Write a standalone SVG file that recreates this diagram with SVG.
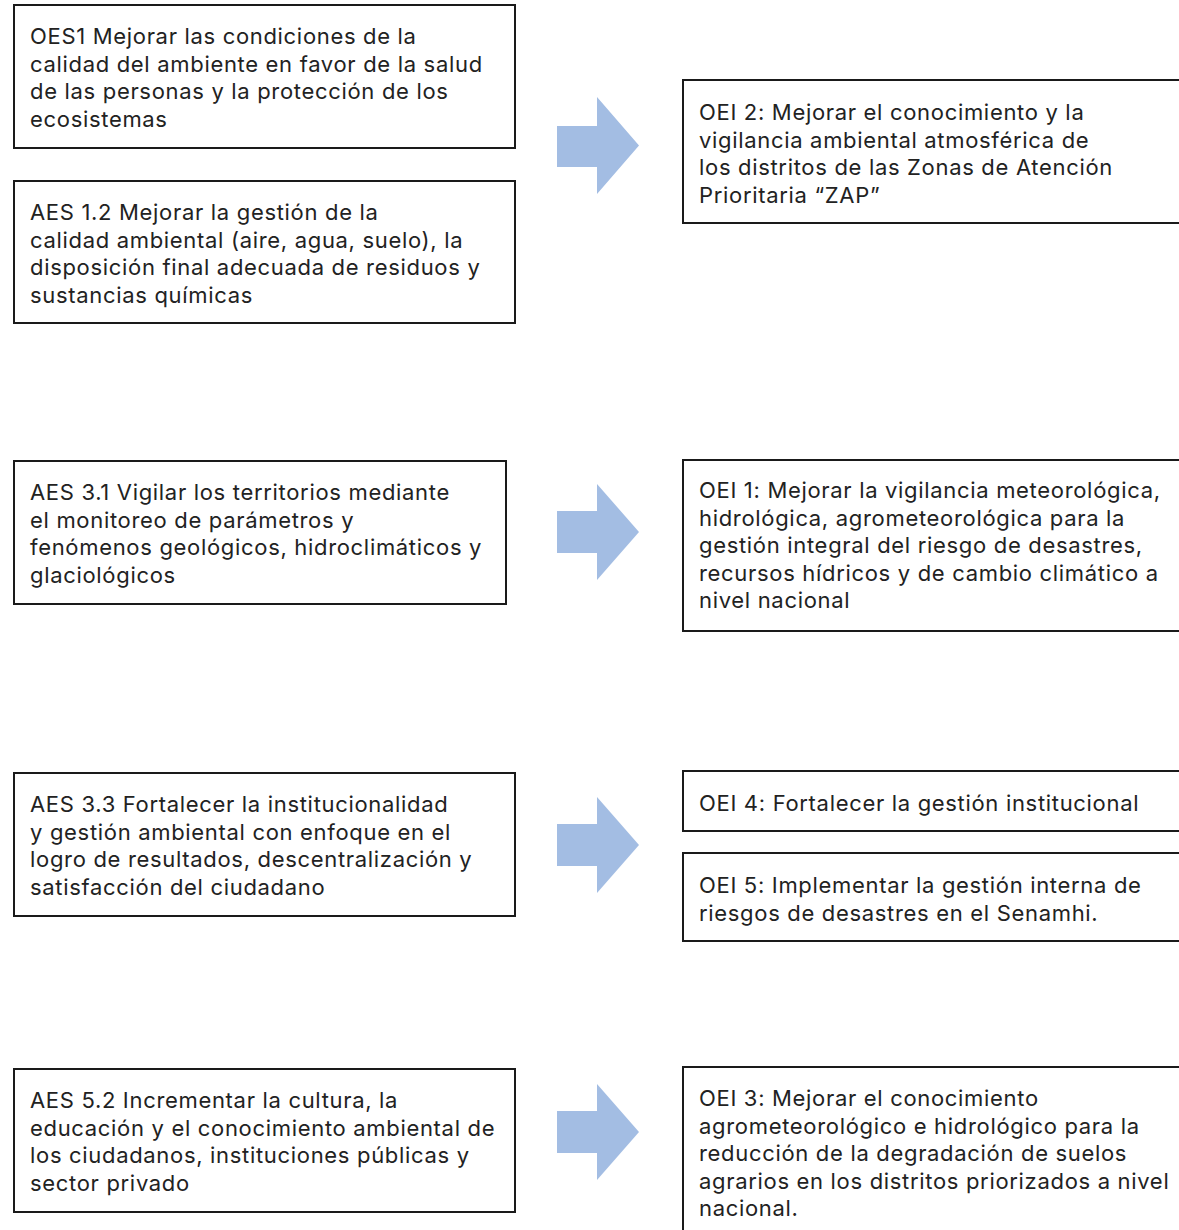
<svg xmlns="http://www.w3.org/2000/svg" width="1179" height="1230" viewBox="0 0 1179 1230">
<defs>
<style>
.box{fill:#ffffff;stroke:#1a1a1a;stroke-width:2}
.t{font-family:Inter,"Open Sans","Liberation Sans",sans-serif;font-size:22px;letter-spacing:0.68px;fill:#222222}
.arr{fill:#a3bde3}
</style>
</defs>
<rect x="0" y="0" width="1179" height="1230" fill="#ffffff"/>
<g id="connectors">
<polygon class="arr" points="557,126 597,126 597,97 639,145.5 597,194 597,167 557,167"/>
<polygon class="arr" points="557,511 597,511 597,484 639,532 597,580 597,553 557,553"/>
<polygon class="arr" points="557,824 597,824 597,797 639,845 597,893 597,866 557,866"/>
<polygon class="arr" points="557,1111 597,1111 597,1084 639,1132 597,1180 597,1153 557,1153"/>
</g>
<g id="oes1">
<rect class="box" x="14" y="5" width="501" height="143"/>
<text class="t"><tspan x="30" y="44">OES1 Mejorar las condiciones de la</tspan><tspan x="30" y="71.6">calidad del ambiente en favor de la salud</tspan><tspan x="30" y="99.2">de las personas y la protección de los</tspan><tspan x="30" y="126.8">ecosistemas</tspan></text>
</g>
<g id="aes12">
<rect class="box" x="14" y="181" width="501" height="142"/>
<text class="t"><tspan x="30" y="220">AES 1.2 Mejorar la gestión de la</tspan><tspan x="30" y="247.6">calidad ambiental (aire, agua, suelo), la</tspan><tspan x="30" y="275.2">disposición final adecuada de residuos y</tspan><tspan x="30" y="302.8">sustancias químicas</tspan></text>
</g>
<g id="oei2">
<rect class="box" x="683" y="80" width="500" height="143"/>
<text class="t"><tspan x="699" y="120">OEI 2: Mejorar el conocimiento y la</tspan><tspan x="699" y="147.6">vigilancia ambiental atmosférica de</tspan><tspan x="699" y="175.2">los distritos de las Zonas de Atención</tspan><tspan x="699" y="202.8">Prioritaria “ZAP”</tspan></text>
</g>
<g id="aes31">
<rect class="box" x="14" y="461" width="492" height="143"/>
<text class="t"><tspan x="30" y="500">AES 3.1 Vigilar los territorios mediante</tspan><tspan x="30" y="527.6">el monitoreo de parámetros y</tspan><tspan x="30" y="555.2">fenómenos geológicos, hidroclimáticos y</tspan><tspan x="30" y="582.8">glaciológicos</tspan></text>
</g>
<g id="oei1">
<rect class="box" x="683" y="460" width="500" height="171"/>
<text class="t"><tspan x="699" y="498">OEI 1: Mejorar la vigilancia meteorológica,</tspan><tspan x="699" y="525.6">hidrológica, agrometeorológica para la</tspan><tspan x="699" y="553.2">gestión integral del riesgo de desastres,</tspan><tspan x="699" y="580.8">recursos hídricos y de cambio climático a</tspan><tspan x="699" y="608.4">nivel nacional</tspan></text>
</g>
<g id="aes33">
<rect class="box" x="14" y="773" width="501" height="143"/>
<text class="t"><tspan x="30" y="812">AES 3.3 Fortalecer la institucionalidad</tspan><tspan x="30" y="839.6">y gestión ambiental con enfoque en el</tspan><tspan x="30" y="867.2">logro de resultados, descentralización y</tspan><tspan x="30" y="894.8">satisfacción del ciudadano</tspan></text>
</g>
<g id="oei4">
<rect class="box" x="683" y="771" width="500" height="60"/>
<text class="t"><tspan x="699" y="811">OEI 4: Fortalecer la gestión institucional</tspan></text>
</g>
<g id="oei5">
<rect class="box" x="683" y="853" width="500" height="88"/>
<text class="t"><tspan x="699" y="893">OEI 5: Implementar la gestión interna de</tspan><tspan x="699" y="920.6">riesgos de desastres en el Senamhi.</tspan></text>
</g>
<g id="aes52">
<rect class="box" x="14" y="1069" width="501" height="143"/>
<text class="t"><tspan x="30" y="1108">AES 5.2 Incrementar la cultura, la</tspan><tspan x="30" y="1135.6">educación y el conocimiento ambiental de</tspan><tspan x="30" y="1163.2">los ciudadanos, instituciones públicas y</tspan><tspan x="30" y="1190.8">sector privado</tspan></text>
</g>
<g id="oei3">
<rect class="box" x="683" y="1067" width="500" height="170"/>
<text class="t"><tspan x="699" y="1106">OEI 3: Mejorar el conocimiento</tspan><tspan x="699" y="1133.6">agrometeorológico e hidrológico para la</tspan><tspan x="699" y="1161.2">reducción de la degradación de suelos</tspan><tspan x="699" y="1188.8">agrarios en los distritos priorizados a nivel</tspan><tspan x="699" y="1216.4">nacional.</tspan></text>
</g>
</svg>
